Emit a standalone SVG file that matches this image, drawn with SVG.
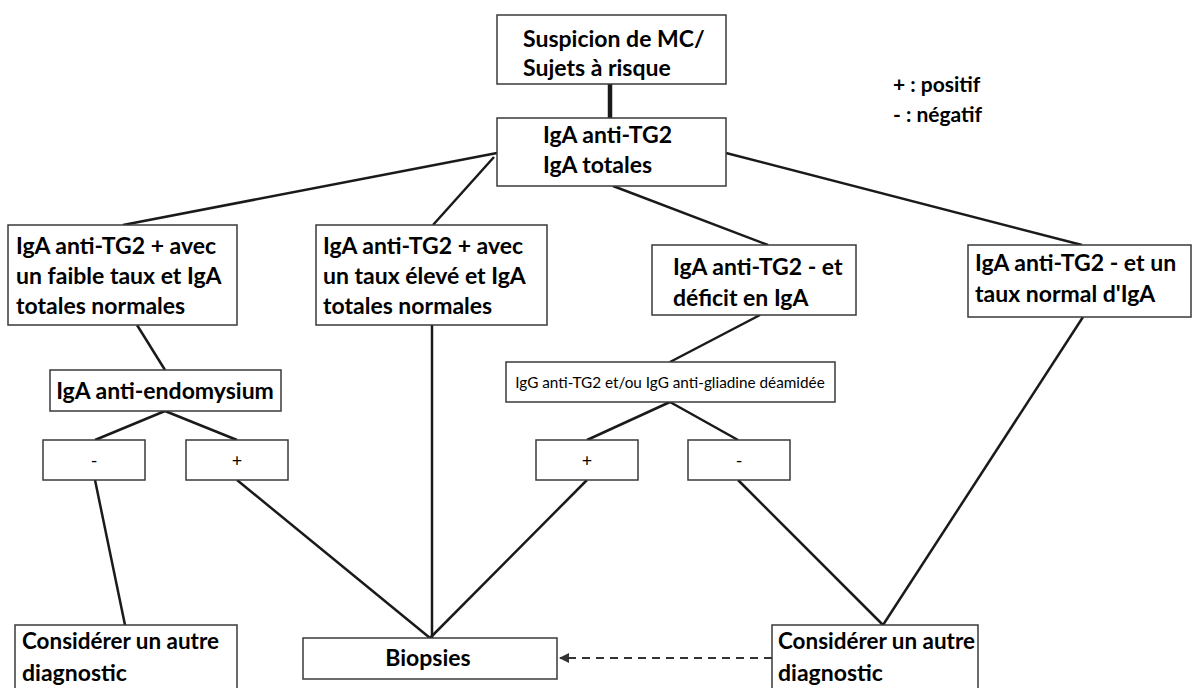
<svg xmlns="http://www.w3.org/2000/svg" width="1192" height="688" viewBox="0 0 1192 688">
<defs>
<style>
.box{fill:#fff;stroke:#3a3a3a;stroke-width:1.5}
.t{font-family:Lato,"Liberation Sans",sans-serif;font-weight:bold;font-size:23px;fill:#000}
.lg{font-family:Lato,"Liberation Sans",sans-serif;font-weight:bold;font-size:21px;fill:#000}
.s{font-family:Lato,"Liberation Sans",sans-serif;font-size:18px;fill:#000}
.sm{font-family:Lato,"Liberation Sans",sans-serif;font-size:15.3px;fill:#000}
.c{stroke:#1a1a1a;stroke-width:2.5;fill:none}
.d{stroke:#333;stroke-width:2;fill:none;stroke-dasharray:8,6}
</style>
<marker id="ah" viewBox="0 0 10 10" refX="9" refY="5" markerWidth="5" markerHeight="5" orient="auto-start-reverse">
<path d="M0,0 L10,5 L0,10 z" fill="#333"/>
</marker>
</defs>
<rect width="1192" height="688" fill="#fff"/>
<g id="connectors">
<line class="c" x1="610" y1="84" x2="610" y2="118" style="stroke-width:4.5"/>
<line class="c" x1="497" y1="153" x2="123" y2="225"/>
<line class="c" x1="494" y1="157" x2="433" y2="225"/>
<line class="c" x1="613" y1="186" x2="768" y2="245"/>
<line class="c" x1="726" y1="153" x2="1082" y2="245"/>
<line class="c" x1="137" y1="325" x2="165" y2="370"/>
<line class="c" x1="165" y1="411" x2="95" y2="440"/>
<line class="c" x1="165" y1="411" x2="237" y2="440"/>
<line class="c" x1="95" y1="480" x2="125" y2="625"/>
<line class="c" x1="237" y1="480" x2="430" y2="638"/>
<line class="c" x1="432" y1="325" x2="432" y2="638"/>
<line class="c" x1="587" y1="480" x2="430" y2="638"/>
<line class="c" x1="760" y1="315" x2="670" y2="362"/>
<line class="c" x1="670" y1="402" x2="587" y2="440"/>
<line class="c" x1="670" y1="402" x2="738" y2="440"/>
<line class="c" x1="738" y1="480" x2="883" y2="625"/>
<line class="c" x1="1083" y1="317" x2="883" y2="625"/>
<line class="d" x1="772" y1="658" x2="560" y2="658" marker-end="url(#ah)"/>
</g>
<g id="n-suspicion">
<rect class="box" x="497" y="15" width="229" height="69"/>
<text class="t" x="523" y="47">Suspicion de MC/</text>
<text class="t" x="523" y="76">Sujets à risque</text>
</g>
<g id="n-iga">
<rect class="box" x="497" y="118" width="229" height="68"/>
<text class="t" x="543" y="143">IgA anti-TG2</text>
<text class="t" x="543" y="173">IgA totales</text>
</g>
<g id="n-legend">
<text class="lg" x="893" y="92">+ : positif</text>
<text class="lg" x="893" y="122">- : négatif</text>
</g>
<g id="n-a">
<rect class="box" x="8" y="225" width="229" height="100"/>
<text class="t" x="16" y="254">IgA anti-TG2 + avec</text>
<text class="t" x="16" y="284">un faible taux et IgA</text>
<text class="t" x="16" y="314">totales normales</text>
</g>
<g id="n-b">
<rect class="box" x="316" y="225" width="231" height="100"/>
<text class="t" x="323" y="254">IgA anti-TG2 + avec</text>
<text class="t" x="323" y="284">un taux élevé et IgA</text>
<text class="t" x="323" y="314">totales normales</text>
</g>
<g id="n-c">
<rect class="box" x="652" y="245" width="204" height="70"/>
<text class="t" x="673" y="275">IgA anti-TG2 - et</text>
<text class="t" x="673" y="306">déficit en IgA</text>
</g>
<g id="n-d">
<rect class="box" x="968" y="245" width="223" height="72"/>
<text class="t" x="975" y="271">IgA anti-TG2 - et un</text>
<text class="t" x="975" y="302">taux normal d'IgA</text>
</g>
<g id="n-endo">
<rect class="box" x="50" y="370" width="231" height="41"/>
<text class="t" x="165" y="399" text-anchor="middle">IgA anti-endomysium</text>
</g>
<g id="n-igg">
<rect class="box" x="506" y="362" width="329" height="40"/>
<text class="sm" x="670" y="388" text-anchor="middle">IgG anti-TG2 et/ou IgG anti-gliadine déamidée</text>
</g>
<g id="n-neg1">
<rect class="box" x="43" y="440" width="102" height="40"/>
<text class="s" x="94" y="467" text-anchor="middle">-</text>
</g>
<g id="n-pos1">
<rect class="box" x="186" y="440" width="102" height="40"/>
<text class="s" x="237" y="467" text-anchor="middle">+</text>
</g>
<g id="n-pos2">
<rect class="box" x="536" y="440" width="102" height="40"/>
<text class="s" x="587" y="467" text-anchor="middle">+</text>
</g>
<g id="n-neg2">
<rect class="box" x="688" y="440" width="102" height="40"/>
<text class="s" x="739" y="467" text-anchor="middle">-</text>
</g>
<g id="n-autre1">
<rect class="box" x="15" y="625" width="222" height="70"/>
<text class="t" x="22" y="649" textLength="197" lengthAdjust="spacingAndGlyphs">Considérer un autre</text>
<text class="t" x="22" y="681">diagnostic</text>
</g>
<g id="n-biopsies">
<rect class="box" x="303" y="638" width="254" height="41"/>
<text class="t" x="428" y="666" text-anchor="middle">Biopsies</text>
</g>
<g id="n-autre2">
<rect class="box" x="772" y="625" width="206" height="70"/>
<text class="t" x="778" y="649" textLength="197" lengthAdjust="spacingAndGlyphs">Considérer un autre</text>
<text class="t" x="778" y="681">diagnostic</text>
</g>
</svg>
